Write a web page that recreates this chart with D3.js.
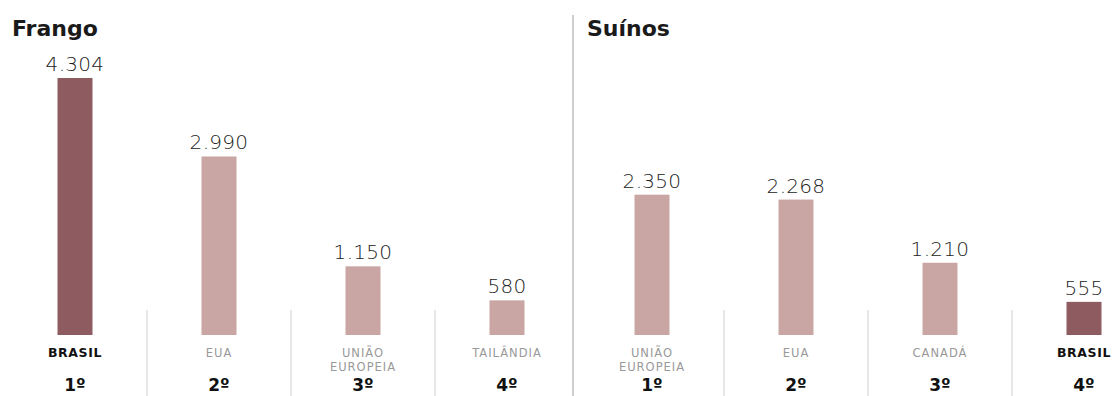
<!doctype html>
<html>
  <head>
    <meta charset="utf-8">
    <script src="https://cdn.jsdelivr.net/npm/d3@7"></script>
    <style>
      body { margin: 0; background: #fff; }
    </style>
  </head>
  <body>
    <svg id="chart" width="1117" height="396"></svg>

    <script>
      // frango (mil toneladas)
      var frangoPaises = ["BRASIL", "EUA", "UNIÃO EUROPEIA", "TAILÂNDIA"];
      var frangoValores = [4304, 2990, 1150, 580];
      var frangoRotulos = ["4.304", "2.990", "1.150", "580"];

      // suínos
      var suinosPaises = ["UNIÃO EUROPEIA", "EUA", "CANADÁ", "BRASIL"];
      var suinosValores = [2350, 2268, 1210, 555];
      var suinosRotulos = ["2.350", "2.268", "1.210", "555"];

      var posicoes = ["1º", "2º", "3º", "4º"];

      var svg = d3.select("#chart");

      var base = 335;
      var y = d3.scaleLinear().domain([0, 4304]).range([base, 78]);

      var escuro = "#8e5c60";
      var claro = "#c9a6a4";
      var fonte = "'DejaVu Sans', sans-serif";

      function painel(titulo, tituloX, paises, valores, rotulos, x0, x1) {
        var g = svg.append("g");
        var x = d3.scaleBand().domain(paises).range([x0, x1]);
        var w = 35;
        var cx = d => x(d) + x.bandwidth() / 2;

        g.append("text")
          .attr("x", tituloX)
          .attr("y", 36)
          .attr("font-family", fonte)
          .attr("font-weight", "bold")
          .attr("font-size", 22)
          .attr("fill", "#1a1a1a")
          .text(titulo);

        // divisórias entre países
        g.selectAll("line.div")
          .data(paises.slice(1))
          .enter()
          .append("line")
          .attr("x1", d => x(d))
          .attr("x2", d => x(d))
          .attr("y1", 310)
          .attr("y2", 396)
          .attr("stroke", "#d0d0d0")
          .attr("stroke-width", 1);

        g.selectAll("rect")
          .data(paises)
          .enter()
          .append("rect")
          .attr("x", d => cx(d) - w / 2)
          .attr("width", w)
          .attr("y", (d, i) => y(valores[i]))
          .attr("height", (d, i) => base - y(valores[i]))
          .attr("fill", d => d === "BRASIL" ? escuro : claro);

        g.selectAll("text.valor")
          .data(paises)
          .enter()
          .append("text")
          .attr("class", "valor")
          .attr("x", cx)
          .attr("y", (d, i) => y(valores[i]) - 7)
          .attr("text-anchor", "middle")
          .attr("font-family", fonte)
          .attr("font-weight", 200)
          .attr("font-size", 20)
          .attr("letter-spacing", 0.3)
          .attr("fill", "#222")
          .text((d, i) => rotulos[i]);

        paises.forEach(function(p) {
          var linhas = p === "UNIÃO EUROPEIA" ? ["UNIÃO", "EUROPEIA"] : [p];
          var forte = p === "BRASIL";
          var t = g.append("text")
            .attr("x", cx(p))
            .attr("y", 357)
            .attr("text-anchor", "middle")
            .attr("font-family", fonte)
            .attr("font-size", forte ? 12.5 : 11.5)
            .attr("letter-spacing", forte ? 0.6 : 1)
            .attr("font-weight", forte ? "bold" : "normal")
            .attr("fill", forte ? "#111" : "#999");
          linhas.forEach(function(l, i) {
            t.append("tspan").attr("x", cx(p)).attr("dy", i ? 14 : 0).text(l);
          });
        });

        g.selectAll("text.pos")
          .data(paises)
          .enter()
          .append("text")
          .attr("x", cx)
          .attr("y", 391)
          .attr("text-anchor", "middle")
          .attr("font-family", fonte)
          .attr("font-weight", "bold")
          .attr("font-size", 17)
          .attr("fill", "#111")
          .text((d, i) => posicoes[i]);
      }

      painel("Frango", 12, frangoPaises, frangoValores, frangoRotulos, 3, 579);
      painel("Suínos", 587, suinosPaises, suinosValores, suinosRotulos, 580, 1156);

      // separador central
      svg.append("line")
        .attr("x1", 573).attr("x2", 573)
        .attr("y1", 15).attr("y2", 396)
        .attr("stroke", "#cfcfcf")
        .attr("stroke-width", 2);
    </script>
  </body>
</html>
